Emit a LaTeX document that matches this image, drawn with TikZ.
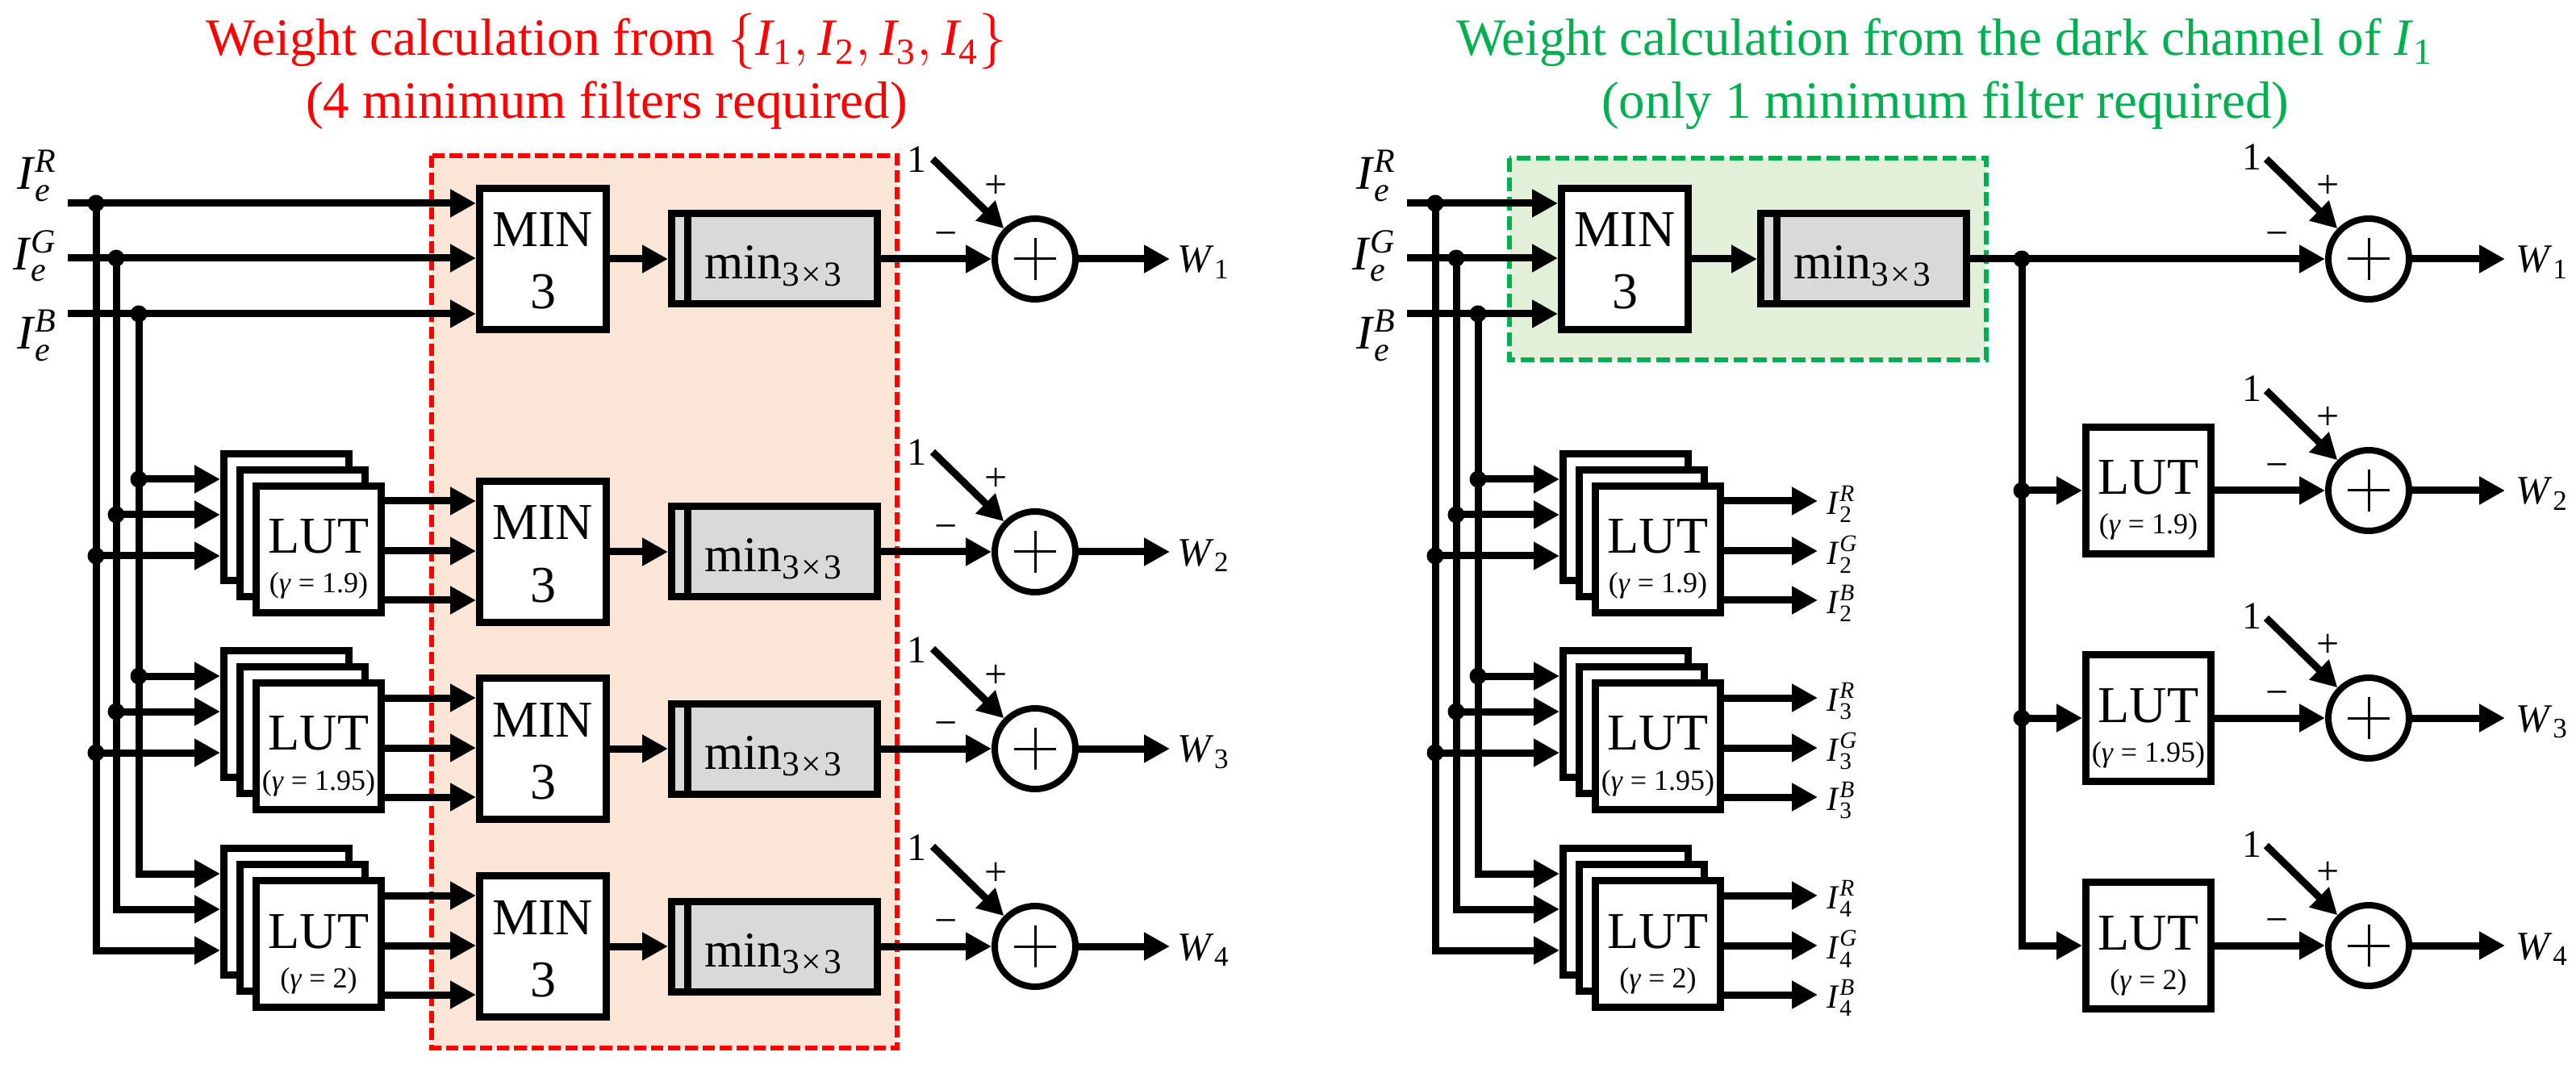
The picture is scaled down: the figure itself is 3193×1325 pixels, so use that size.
\documentclass[tikz,border=0pt]{standalone}
\usepackage{fontspec}
\usepackage{amsmath}
\setmainfont{Liberation Serif}
\usetikzlibrary{arrows.meta,calc}
\definecolor{tred}{HTML}{FF0000}
\definecolor{tgreen}{HTML}{00B050}
\definecolor{peach}{HTML}{FBE5D6}
\definecolor{lgreen}{HTML}{E2F0D9}
\definecolor{boxgray}{HTML}{D9D9D9}
\newcommand{\Ive}[1]{\textit{I}$^{\textit{#1}}_{\textit{e}}$}
\newcommand{\Ivn}[2]{\textit{I}$^{\textit{#2}}_{\text{#1}}$}
\newcommand{\minlab}{min$_{\text{3\kern0.06em×\kern0.06em3}}$}
\tikzset{
  wire/.style={line width=2.25pt},
  arr/.style={line width=2.25pt, -{Triangle[length=8pt,width=8.25pt]}},
  dot/.style={circle, fill=black, inner sep=0pt, minimum size=5.25pt},
  minbox/.style={draw, line width=2.25pt, fill=white, minimum width=39.25pt, minimum height=43.75pt, inner sep=0pt},
  filtbox/.style={draw, line width=2.25pt, fill=boxgray, minimum width=63.75pt, minimum height=28pt, inner sep=0pt},
  lutbox/.style={draw, line width=2.25pt, fill=white, minimum width=38.75pt, minimum height=39.25pt, inner sep=0pt},
  sumnode/.style={circle, draw, line width=2pt, fill=white, minimum size=25pt, inner sep=0pt},
  plusline/.style={line width=0.75pt},
  titletxt/.style={font=\fontsize{16.25}{19.5}\selectfont, inner sep=0pt},
  bigtxt/.style={font=\fontsize{16}{19}\selectfont, inner sep=0pt},
  mintxt/.style={font=\fontsize{15.5}{18}\selectfont, inner sep=0pt},
  intxt/.style={font=\fontsize{15}{17}\selectfont, inner sep=0pt},
  gamtxt/.style={font=\fontsize{9}{11}\selectfont, inner sep=0pt},
  numtxt/.style={font=\fontsize{12}{14}\selectfont, inner sep=0pt},
  pmtxt/.style={font=\fontsize{12.5}{14}\selectfont, inner sep=0pt},
  wtxt/.style={font=\fontsize{12.5}{15}\selectfont, inner sep=0pt},
  outtxt/.style={font=\fontsize{10.5}{12}\selectfont, inner sep=0pt},
  redbox/.style={fill=peach, draw=tred, line width=1.4pt, dash pattern=on 3.8pt off 1.5pt},
  greenbox/.style={fill=lgreen, draw=tgreen, line width=1.4pt, dash pattern=on 4.2pt off 1.8pt}
}
\begin{document}
\begin{tikzpicture}[x=0.25pt,y=-0.25pt]
\useasboundingbox (0,0) rectangle (3193,1325);

% ---------- backgrounds ----------
\filldraw[redbox] (535,193) rectangle (1112,1299);
\filldraw[greenbox] (1871,196) rectangle (2462,446);

% ---------- titles ----------
\node[titletxt, text=tred, anchor=base] (LT1) at (752,69) {Weight calculation from $\{\textit{I}_{\text{1}}, \textit{I}_{\text{2}}, \textit{I}_{\text{3}}, \textit{I}_{\text{4}}\}$};
\node[titletxt, text=tred, anchor=base] (LT2) at (752,147) {(4 minimum filters required)};
\node[titletxt, text=tgreen, anchor=base] (RT1) at (2411,69) {Weight calculation from the dark channel of \textit{I}$_{\text{1}}$};
\node[titletxt, text=tgreen, anchor=base] (RT2) at (2411,147) {(only 1 minimum filter required)};

% =================== LEFT PANEL ===================
\node[intxt, anchor=east] (LlR) at (72,218) {\Ive{R}};
\node[intxt, anchor=east] (LlG) at (72,317) {\Ive{G}};
\node[intxt, anchor=east] (LlB) at (72,416) {\Ive{B}};

\node[minbox] (LM1) at (673,321) {};
\node[bigtxt, anchor=base] (LMt1) at (673,306) {MIN};
\node[bigtxt, anchor=base] (LMn1) at (673,383) {3};

\foreach \r/\dy/\g/\Y in {2/0/1.9/684, 3/244/1.95/928, 4/489/2/1173} {
  \node[lutbox] (LUb\r) at (355,641+\dy) {};
  \node[lutbox] (LUm\r) at (375,661+\dy) {};
  \node[lutbox] (LUf\r) at (395,681+\dy) {};
  \node[bigtxt, anchor=base] (LUt\r) at (395,686+\dy) {LUT};
  \node[gamtxt, anchor=base] (LUg\r) at (395,735+\dy) {(\textit{γ} = \g)};
  \node[minbox] (LM\r) at (673,\Y) {};
  \node[bigtxt, anchor=base] (LMt\r) at (673,\Y-15) {MIN};
  \node[bigtxt, anchor=base] (LMn\r) at (673,\Y+62) {3};
  \foreach \yy [count=\k] in {621,683,744} {
    \coordinate (Lo\r\k) at (477,\yy+\dy);
    \draw[arr] (Lo\r\k) -- (Lo\r\k -| LM\r.west);
  }
}

% inputs
\coordinate (LinR) at (84,252);
\coordinate (LinG) at (84,320);
\coordinate (LinB) at (84,389);
\draw[arr] (LinR) -- (LinR -| LM1.west);
\draw[arr] (LinG) -- (LinG -| LM1.west);
\draw[arr] (LinB) -- (LinB -| LM1.west);
\node[dot] (LdR) at (119,252) {};
\node[dot] (LdG) at (144,320) {};
\node[dot] (LdB) at (172,389) {};
\coordinate (LcR) at (119,1178);
\coordinate (LcG) at (144,1127);
\coordinate (LcB) at (172,1083);
\draw[arr] (LdR.center) -- (LcR) -- (LcR -| LUb4.west);
\draw[arr] (LdG.center) -- (LcG) -- (LcG -| LUb4.west);
\draw[arr] (LdB.center) -- (LcB) -- (LcB -| LUb4.west);
\foreach \r/\dy in {2/0, 3/244} {
  \node[dot] (LdB\r) at (172,594+\dy) {};
  \node[dot] (LdG\r) at (144,638+\dy) {};
  \node[dot] (LdR\r) at (119,689+\dy) {};
  \draw[arr] (LdB\r.center) -- (LdB\r -| LUb\r.west);
  \draw[arr] (LdG\r.center) -- (LdG\r -| LUb\r.west);
  \draw[arr] (LdR\r.center) -- (LdR\r -| LUb\r.west);
}

% filters and summing junctions
\foreach \r/\Y in {1/321, 2/684, 3/928, 4/1173} {
  \node[filtbox] (Lf\r) at (960,\Y) {};
  \draw[wire] ([xshift=6pt]Lf\r.north west) -- ([xshift=6pt]Lf\r.south west);
  \node[mintxt, anchor=base] (Lft\r) at (959,\Y+25) {\minlab};
  \draw[arr] (LM\r.east) -- (Lf\r.west);
  \node[sumnode] (LS\r) at (1283,\Y) {};
  \draw[plusline] ($(LS\r)+(-26,0)$) -- ($(LS\r)+(26,0)$);
  \draw[plusline] ($(LS\r)+(0,-26)$) -- ($(LS\r)+(0,26)$);
  \draw[arr] (Lf\r.east) -- (LS\r.west);
  \coordinate (LOne\r) at ($(LS\r)+(-127,-124)$);
  \draw[arr] (LOne\r) -- (LS\r);
  \node[numtxt, anchor=base] (LOnel\r) at ($(LS\r)+(-147,-107)$) {1};
  \node[pmtxt] (LPl\r) at ($(LS\r)+(-48,-90)$) {+};
  \node[pmtxt] (LMi\r) at ($(LS\r)+(-110,-24)$) {−};
  \coordinate (LWe\r) at ($(LS\r)+(167,0)$);
  \draw[arr] (LS\r.east) -- (LWe\r);
  \node[wtxt, anchor=base west] (LW\r) at ($(LS\r)+(176,17)$) {\textit{W}$_{\text{\r}}$};
}

% =================== RIGHT PANEL ===================
\node[intxt, anchor=east] (RlR) at (1732,218) {\Ive{R}};
\node[intxt, anchor=east] (RlG) at (1732,317) {\Ive{G}};
\node[intxt, anchor=east] (RlB) at (1732,416) {\Ive{B}};

\node[minbox] (RM1) at (2014,321) {};
\node[bigtxt, anchor=base] (RMt1) at (2014,306) {MIN};
\node[bigtxt, anchor=base] (RMn1) at (2014,383) {3};

\foreach \r/\dy/\g in {2/0/1.9, 3/244/1.95, 4/489/2} {
  \node[lutbox] (RUb\r) at (2015,641+\dy) {};
  \node[lutbox] (RUm\r) at (2035,661+\dy) {};
  \node[lutbox] (RUf\r) at (2055,681+\dy) {};
  \node[bigtxt, anchor=base] (RUt\r) at (2055,686+\dy) {LUT};
  \node[gamtxt, anchor=base] (RUg\r) at (2055,735+\dy) {(\textit{γ} = \g)};
  \foreach \yy/\c [count=\k] in {621/R,683/G,744/B} {
    \node[outtxt, anchor=west] (Rol\r\k) at (2264,\yy+\dy+4) {\Ivn{\r}{\c}};
    \coordinate (Ro\r\k) at (2137,\yy+\dy);
    \coordinate (Roe\r\k) at (2253,\yy+\dy);
    \draw[arr] (Ro\r\k) -- (Roe\r\k);
  }
}

\coordinate (RinR) at (1744,252);
\coordinate (RinG) at (1744,320);
\coordinate (RinB) at (1744,389);
\draw[arr] (RinR) -- (RinR -| RM1.west);
\draw[arr] (RinG) -- (RinG -| RM1.west);
\draw[arr] (RinB) -- (RinB -| RM1.west);
\node[dot] (RdR) at (1779,252) {};
\node[dot] (RdG) at (1805,320) {};
\node[dot] (RdB) at (1832,389) {};
\coordinate (RcR) at (1779,1178);
\coordinate (RcG) at (1805,1127);
\coordinate (RcB) at (1832,1083);
\draw[arr] (RdR.center) -- (RcR) -- (RcR -| RUb4.west);
\draw[arr] (RdG.center) -- (RcG) -- (RcG -| RUb4.west);
\draw[arr] (RdB.center) -- (RcB) -- (RcB -| RUb4.west);
\foreach \r/\dy in {2/0, 3/244} {
  \node[dot] (RdB\r) at (1832,594+\dy) {};
  \node[dot] (RdG\r) at (1805,638+\dy) {};
  \node[dot] (RdR\r) at (1779,689+\dy) {};
  \draw[arr] (RdB\r.center) -- (RdB\r -| RUb\r.west);
  \draw[arr] (RdG\r.center) -- (RdG\r -| RUb\r.west);
  \draw[arr] (RdR\r.center) -- (RdR\r -| RUb\r.west);
}

% dark channel filter
\node[filtbox] (Rf1) at (2310,321) {};
\draw[wire] ([xshift=6pt]Rf1.north west) -- ([xshift=6pt]Rf1.south west);
\node[mintxt, anchor=base] (Rft1) at (2309,346) {\minlab};
\draw[arr] (RM1.east) -- (Rf1.west);

% single LUTs
\foreach \r/\Y/\g in {2/608/1.9, 3/890/1.95, 4/1172/2} {
  \node[lutbox] (RL\r) at (2663,\Y) {};
  \node[bigtxt, anchor=base] (RLt\r) at (2663,\Y+5) {LUT};
  \node[gamtxt, anchor=base] (RLg\r) at (2663,\Y+54) {(\textit{γ} = \g)};
}

% summing junctions
\foreach \r/\Y in {1/321, 2/608, 3/890, 4/1172} {
  \node[sumnode] (RS\r) at (2936,\Y) {};
  \draw[plusline] ($(RS\r)+(-26,0)$) -- ($(RS\r)+(26,0)$);
  \draw[plusline] ($(RS\r)+(0,-26)$) -- ($(RS\r)+(0,26)$);
  \coordinate (ROne\r) at ($(RS\r)+(-127,-124)$);
  \draw[arr] (ROne\r) -- (RS\r);
  \node[numtxt, anchor=base] (ROnel\r) at ($(RS\r)+(-145,-110)$) {1};
  \node[pmtxt] (RPl\r) at ($(RS\r)+(-50,-90)$) {+};
  \node[pmtxt] (RMi\r) at ($(RS\r)+(-113,-24)$) {−};
  \coordinate (RWe\r) at ($(RS\r)+(169,0)$);
  \draw[arr] (RS\r.east) -- (RWe\r);
  \node[wtxt, anchor=base west] (RW\r) at ($(RS\r)+(182,17)$) {\textit{W}$_{\text{\r}}$};
}

% dark channel bus
\node[dot] (Rj) at (2506,321) {};
\node[dot] (Rd2) at (2506,608) {};
\node[dot] (Rd3) at (2506,890) {};
\coordinate (Rc4) at (2506,1172);
\draw[wire] (Rf1.east) -- (Rj.center);
\draw[arr] (Rj.center) -- (RS1.west);
\draw[arr] (Rj.center) -- (Rc4) -- (RL4.west);
\draw[arr] (Rd2.center) -- (RL2.west);
\draw[arr] (Rd3.center) -- (RL3.west);
\foreach \r in {2,3,4} {
  \draw[arr] (RL\r.east) -- (RS\r.west);
}
\end{tikzpicture}
\end{document}
